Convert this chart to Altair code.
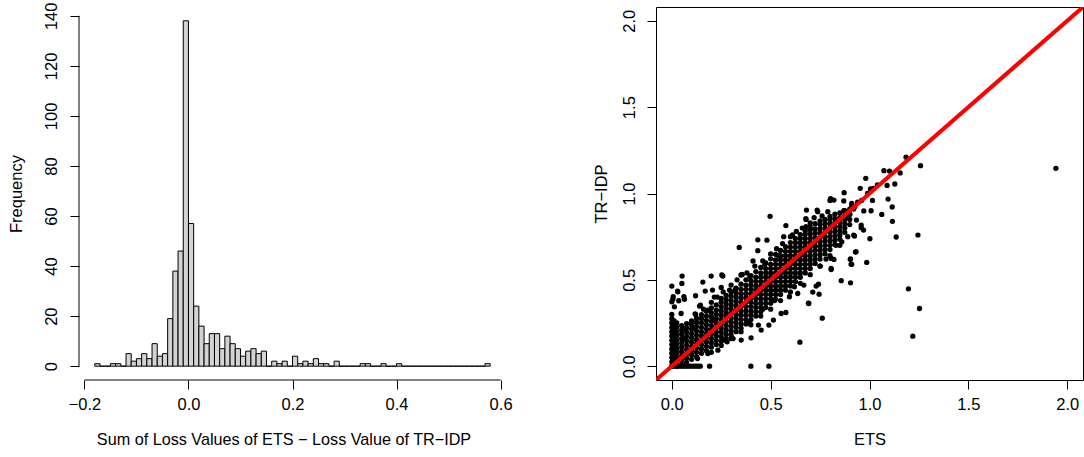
import altair as alt
import pandas as pd

# ---------------- Histogram data (bin width 0.01) ----------------
bin_first = -0.18
bin_width = 0.01
hist_counts = [1, 0, 0, 1, 1, 0, 5, 2, 3, 5, 3, 9, 4, 5, 19, 38, 46, 138,
               57, 24, 16, 9, 13, 13, 7, 12, 9, 7, 4, 6, 7, 5, 6,
               0, 2, 1, 2, 0, 4, 1, 2, 1, 3, 1, 1, 0, 2,
               0, 0, 0, 0, 1, 1, 0, 0, 1, 0, 0, 1,
               0, 0, 0, 0, 0, 0, 0, 0, 0, 0, 0, 0, 0, 0, 0, 0, 1]
hist_xticks = [-0.2, 0.0, 0.2, 0.4, 0.6]
hist_yticks = [0, 20, 40, 60, 80, 100, 120, 140]

# ---------------- Scatter data ----------------
# dense band: (ETS value, list of TR-IDP values)
band = [
    (0.000, [0.000, 0.025, 0.050, 0.075, 0.100, 0.125, 0.150, 0.175, 0.200, 0.225, 0.250, 0.275, 0.300]),
    (0.012, [0.012, 0.037, 0.062, 0.087, 0.112, 0.137, 0.162, 0.187, 0.212, 0.237, 0.262]),
    (0.025, [0.000, 0.025, 0.050, 0.075, 0.100, 0.125, 0.150, 0.175, 0.200, 0.225, 0.250]),
    (0.050, [0.010, 0.035, 0.060, 0.085, 0.110, 0.135, 0.160, 0.185, 0.210, 0.235]),
    (0.075, [0.022, 0.047, 0.072, 0.097, 0.122, 0.147, 0.172, 0.197, 0.222, 0.247]),
    (0.100, [0.040, 0.065, 0.090, 0.115, 0.140, 0.165, 0.190, 0.215, 0.240, 0.262]),
    (0.125, [0.055, 0.080, 0.105, 0.130, 0.155, 0.180, 0.205, 0.230, 0.255, 0.278]),
    (0.150, [0.075, 0.100, 0.125, 0.150, 0.175, 0.200, 0.225, 0.250, 0.275, 0.298]),
    (0.175, [0.090, 0.115, 0.140, 0.165, 0.190, 0.215, 0.240, 0.265, 0.290, 0.318]),
    (0.200, [0.110, 0.135, 0.160, 0.185, 0.210, 0.235, 0.260, 0.285, 0.310, 0.338]),
    (0.225, [0.125, 0.150, 0.175, 0.200, 0.225, 0.250, 0.275, 0.300, 0.325, 0.355]),
    (0.250, [0.145, 0.170, 0.195, 0.220, 0.245, 0.270, 0.295, 0.320, 0.345, 0.370, 0.392]),
    (0.275, [0.160, 0.185, 0.210, 0.235, 0.260, 0.285, 0.310, 0.335, 0.360, 0.385, 0.410]),
    (0.300, [0.180, 0.205, 0.230, 0.255, 0.280, 0.305, 0.330, 0.355, 0.380, 0.405, 0.430]),
    (0.325, [0.200, 0.225, 0.250, 0.275, 0.300, 0.325, 0.350, 0.375, 0.400, 0.425, 0.452]),
    (0.350, [0.220, 0.245, 0.270, 0.295, 0.320, 0.345, 0.370, 0.395, 0.420, 0.445, 0.475]),
    (0.375, [0.245, 0.270, 0.295, 0.320, 0.345, 0.370, 0.395, 0.420, 0.445, 0.470, 0.500]),
    (0.400, [0.270, 0.295, 0.320, 0.345, 0.370, 0.395, 0.420, 0.445, 0.470, 0.495, 0.525]),
    (0.425, [0.290, 0.315, 0.340, 0.365, 0.390, 0.415, 0.440, 0.465, 0.490, 0.515, 0.548]),
    (0.450, [0.315, 0.340, 0.365, 0.390, 0.415, 0.440, 0.465, 0.490, 0.515, 0.540, 0.572]),
    (0.475, [0.340, 0.365, 0.390, 0.415, 0.440, 0.465, 0.490, 0.515, 0.540, 0.565, 0.598]),
    (0.500, [0.365, 0.390, 0.415, 0.440, 0.465, 0.490, 0.515, 0.540, 0.565, 0.590, 0.622]),
    (0.525, [0.390, 0.415, 0.440, 0.465, 0.490, 0.515, 0.540, 0.565, 0.590, 0.615, 0.648]),
    (0.550, [0.415, 0.440, 0.465, 0.490, 0.515, 0.540, 0.565, 0.590, 0.615, 0.640, 0.670]),
    (0.575, [0.440, 0.465, 0.490, 0.515, 0.540, 0.565, 0.590, 0.615, 0.640, 0.665, 0.692]),
    (0.600, [0.465, 0.490, 0.515, 0.540, 0.565, 0.590, 0.615, 0.640, 0.665, 0.690, 0.716]),
    (0.625, [0.490, 0.515, 0.540, 0.565, 0.590, 0.615, 0.640, 0.665, 0.690, 0.715, 0.740]),
    (0.650, [0.515, 0.540, 0.565, 0.590, 0.615, 0.640, 0.665, 0.690, 0.715, 0.740, 0.762]),
    (0.675, [0.540, 0.565, 0.590, 0.615, 0.640, 0.665, 0.690, 0.715, 0.740, 0.765, 0.785]),
    (0.700, [0.565, 0.590, 0.615, 0.640, 0.665, 0.690, 0.715, 0.740, 0.765, 0.790, 0.808]),
    (0.725, [0.595, 0.620, 0.645, 0.670, 0.695, 0.720, 0.745, 0.770, 0.795, 0.825]),
    (0.750, [0.620, 0.645, 0.670, 0.695, 0.720, 0.745, 0.770, 0.795, 0.820, 0.842]),
    (0.775, [0.650, 0.675, 0.700, 0.725, 0.750, 0.775, 0.800, 0.825, 0.850]),
    (0.800, [0.675, 0.700, 0.725, 0.750, 0.775, 0.800, 0.825, 0.850, 0.868]),
    (0.825, [0.705, 0.730, 0.755, 0.780, 0.805, 0.830, 0.855, 0.880]),
    (0.850, [0.735, 0.760, 0.785, 0.810, 0.835, 0.860, 0.888]),
    (0.875, [0.775, 0.800, 0.825, 0.850, 0.875, 0.900]),
    (0.900, [0.820, 0.850, 0.880, 0.910]),
]
# points on the zero line
zero_row_x = [0.000, 0.012, 0.024, 0.036, 0.048, 0.060, 0.072, 0.084, 0.096,
              0.108, 0.120, 0.132, 0.144, 0.191, 0.400, 0.491]
# scattered points
scatter_x = [1.943, 1.258, 1.185, 1.245, 1.197, 1.253, 1.219, 1.135, 1.116, 1.115,
             1.094, 1.128, 1.089, 1.073, 1.101, 1.155, 1.062, 1.002, 0.986, 0.981,
             1.005, 1.015, 1.008, 0.970, 0.958, 0.953, 0.929, 0.904, 0.907, 0.904,
             0.857, 0.872, 0.870, 0.803, 0.820, 0.924, 0.934, 0.806, 0.820, 0.761,
             0.648, 0.691, 0.742, 0.745, 0.713, 0.730, 0.577, 0.514, 0.497, 0.341,
             0.435, 0.481, 0.577, 0.678, 0.681, 0.735, 0.258, 0.199, 0.157, 0.052,
             0.000, 0.051, 0.120, 0.169, 0.007, 0.061, 0.029, 0.035, 0.000, 0.013,
             0.047, 0.118, 0.140, 0.206, 0.356, 0.351, 0.401, 0.438, 0.491, 0.103,
             0.059, 0.008, 0.910, 0.926, 0.958, 0.971, 0.920, 0.932, 0.903, 0.910,
             0.806, 0.806, 0.693, 0.595, 0.566, 0.679, 0.679, 0.738, 0.789, 0.800,
             0.411, 0.435, 0.292, 0.250, 0.637, 0.668, 0.553, 0.452, 0.266, 0.182,
             0.233, 0.130, 0.280, 0.145, 0.106, 0.060, 0.182, 0.216, 0.350, 0.253,
             0.030, 0.005, 0.064, 0.010, 0.880, 0.900, 0.920, 0.940, 0.960, 0.990,
             1.020, 1.040, 0.910, 0.870, 0.620, 0.750, 0.780, 0.830, 0.860, 0.890,
             0.540, 0.470, 0.395, 0.320, 0.310, 0.215, 0.385, 0.460, 0.520, 0.610,
             0.300, 0.330, 0.380, 0.420, 0.460, 0.500, 0.530, 0.560, 0.600, 0.630,
             0.660, 0.700, 0.720, 0.760, 0.200, 0.230, 0.260, 0.160, 0.120,
             0.300, 0.350, 0.400, 0.450, 0.500, 0.550, 0.600, 0.650, 0.700, 0.750,
             0.800, 0.200, 0.250, 0.850]
scatter_y = [1.146, 1.161, 1.210, 0.759, 0.448, 0.334, 0.174, 0.748, 0.839, 0.922,
             0.968, 1.055, 1.047, 1.132, 1.130, 1.119, 0.879, 0.738, 0.601, 1.088,
             1.026, 0.960, 0.900, 0.788, 0.802, 1.030, 0.661, 0.622, 0.591, 0.483,
             0.495, 1.005, 0.957, 0.970, 0.962, 0.754, 0.846, 0.560, 0.618, 0.278,
             0.139, 0.365, 0.475, 0.417, 0.429, 0.464, 0.311, 0.267, 0.868, 0.688,
             0.732, 0.730, 0.814, 0.854, 0.904, 0.904, 0.522, 0.522, 0.487, 0.522,
             0.464, 0.479, 0.408, 0.435, 0.402, 0.402, 0.435, 0.379, 0.373, 0.344,
             0.305, 0.303, 0.348, 0.441, 0.531, 0.151, 0.164, 0.238, 0.238, 0.222,
             0.218, 0.247, 0.943, 0.925, 0.817, 0.899, 0.759, 0.663, 0.619, 0.590,
             0.624, 0.566, 0.363, 0.402, 0.750, 0.850, 0.808, 0.895, 0.895, 0.960,
             0.609, 0.669, 0.441, 0.456, 0.421, 0.470, 0.305, 0.209, 0.151, 0.073,
             0.093, 0.044, 0.141, 0.354, 0.224, 0.160, 0.325, 0.267, 0.528, 0.528,
             0.431, 0.387, 0.387, 0.257, 0.860, 0.880, 0.910, 0.950, 0.960, 1.000,
             1.030, 1.050, 0.930, 0.900, 0.460, 0.580, 0.620, 0.700, 0.720, 0.750,
             0.640, 0.590, 0.520, 0.440, 0.160, 0.400, 0.250, 0.330, 0.380, 0.760,
             0.470, 0.500, 0.540, 0.580, 0.610, 0.650, 0.680, 0.710, 0.750, 0.780,
             0.800, 0.830, 0.860, 0.870, 0.370, 0.400, 0.430, 0.330, 0.300,
             0.160, 0.200, 0.240, 0.290, 0.330, 0.380, 0.430, 0.480, 0.530, 0.580,
             0.640, 0.080, 0.120, 0.700]
scatter_ticks = [0.0, 0.5, 1.0, 1.5, 2.0]
scatter_lims = [0.0, 2.0]

FONT = "Liberation Sans"
FS = 16.5

# ---------------- Build tables ----------------
hist_df = pd.DataFrame({
    "start": [round(bin_first + i * bin_width, 2) for i in range(len(hist_counts))],
    "count": hist_counts,
})
hist_df["end"] = (hist_df["start"] + bin_width).round(2)
hist_df["base"] = 0

pts = []
for bx, ys in band:
    for by in ys:
        pts.append((bx, by))
for zx in zero_row_x:
    pts.append((zx, 0.0))
for sx, sy in zip(scatter_x, scatter_y):
    pts.append((sx, sy))
pts_df = pd.DataFrame(pts, columns=["ETS", "TRIDP"])

# R-style axis ranges: data range extended by 4 %
hx0, hx1 = float(hist_df["start"].min()), float(hist_df["end"].max())
hxr = hx1 - hx0
hist_xdom = [hx0 - 0.04 * hxr, hx1 + 0.04 * hxr]
hy1 = max(hist_counts)
hist_ydom = [-0.04 * hy1, hy1 * 1.04]
sr = scatter_lims[1] - scatter_lims[0]
sdom = [scatter_lims[0] - 0.04 * sr, scatter_lims[1] + 0.04 * sr]

W, H = 427, 373


def bottom_axis(**kw):
    d = dict(domain=False, grid=False, tickSize=9, tickColor="black",
             labelPadding=7, titlePadding=19, labelFontSize=FS,
             titleFontSize=FS, titleFontWeight="normal", labelColor="black",
             titleColor="black", labelFont=FONT, titleFont=FONT,
             labelFlush=False, labelOverlap=False)
    d.update(kw)
    return alt.Axis(**d)


def left_axis(**kw):
    d = dict(domain=False, grid=False, tickSize=9, tickColor="black",
             labelPadding=10, titlePadding=12, labelFontSize=FS,
             titleFontSize=FS, titleFontWeight="normal", labelColor="black",
             titleColor="black", labelFont=FONT, titleFont=FONT,
             labelAngle=270, labelAlign="center", labelBaseline="bottom",
             labelFlush=False, labelOverlap=False)
    d.update(kw)
    return alt.Axis(**d)


bars = alt.Chart(hist_df).mark_rect(fill="#d3d3d3", stroke="black", strokeWidth=1).encode(
    x=alt.X("start:Q", scale=alt.Scale(domain=hist_xdom, nice=False, zero=False),
            axis=bottom_axis(values=hist_xticks, format=".1f",
                             title="Sum of Loss Values of ETS \u2212 Loss Value of TR\u2212IDP",
                             titleX=W / 2 - 9, titleFontSize=16.2)),
    x2="end:Q",
    y=alt.Y("count:Q", scale=alt.Scale(domain=hist_ydom, nice=False, zero=False),
            axis=left_axis(values=hist_yticks, format="d", title="Frequency",
                           labelPadding=11, titlePadding=19)),
    y2="base:Q",
)

xline = alt.Chart(pd.DataFrame({"a": [min(hist_xticks)], "b": [max(hist_xticks)]})).mark_rule(
    color="black", strokeWidth=1).encode(
    x=alt.X("a:Q"), x2="b:Q", y=alt.value(H))
yline = alt.Chart(pd.DataFrame({"c": [min(hist_yticks)], "d": [max(hist_yticks)]})).mark_rule(
    color="black", strokeWidth=1).encode(
    y=alt.Y("c:Q"), y2="d:Q", x=alt.value(0))

left = alt.layer(bars, xline, yline).properties(width=W, height=H,
                                                view=alt.ViewBackground(stroke=None))

points = alt.Chart(pts_df).mark_circle(size=28, color="black", opacity=1).encode(
    x=alt.X("ETS:Q", scale=alt.Scale(domain=sdom, nice=False, zero=False),
            axis=bottom_axis(values=scatter_ticks, format=".1f", title="ETS")),
    y=alt.Y("TRIDP:Q", scale=alt.Scale(domain=sdom, nice=False, zero=False),
            axis=left_axis(values=scatter_ticks, format=".1f", title="TR\u2212IDP",
                           labelPadding=10, titlePadding=12)),
)
abline = alt.Chart(pd.DataFrame({"ETS": sdom, "TRIDP": sdom})).mark_line(
    color="#ff0000", strokeWidth=4, clip=True).encode(x="ETS:Q", y="TRIDP:Q")

right = alt.layer(points, abline).properties(
    width=W, height=H, view=alt.ViewBackground(stroke="black", strokeWidth=1))

chart = alt.hconcat(left, right, spacing=150, bounds="flush").properties(
    padding={"left": 8, "top": 2, "right": 0, "bottom": 0},
).configure_view(stroke=None).configure(font=FONT, background="white")

chart.save("out.html", embed_options={"renderer": "svg", "actions": False})
